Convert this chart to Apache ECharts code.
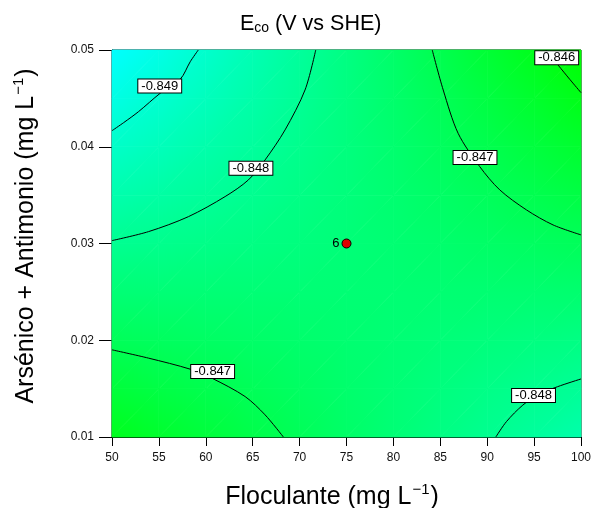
<!DOCTYPE html>
<html>
<head>
<meta charset="utf-8">
<script src="https://cdn.jsdelivr.net/npm/echarts@6/dist/echarts.min.js"></script>
<style>
  html, body { margin: 0; padding: 0; background: #fff; }
  #chart { width: 592px; height: 508px; }
</style>
</head>
<body>
<div id="chart"></div>
<script>
// Response surface of Eco (V vs SHE) over floculante and As + Sb dose
const floculante = [50, 55, 60, 65, 70, 75, 80, 85, 90, 95, 100];
const arsenico = [0.010, 0.015, 0.020, 0.025, 0.030, 0.035, 0.040, 0.045, 0.050];

// eco[row][col]: row follows arsenico, col follows floculante
const eco = [
  [-0.84616, -0.84640, -0.84663, -0.84686, -0.84708, -0.84731, -0.84753, -0.84775, -0.84796, -0.84817, -0.84838],
  [-0.84663, -0.84679, -0.84694, -0.84709, -0.84724, -0.84739, -0.84753, -0.84767, -0.84781, -0.84794, -0.84807],
  [-0.84709, -0.84717, -0.84725, -0.84732, -0.84739, -0.84746, -0.84752, -0.84758, -0.84764, -0.84770, -0.84776],
  [-0.84754, -0.84755, -0.84754, -0.84754, -0.84753, -0.84752, -0.84751, -0.84749, -0.84748, -0.84746, -0.84743],
  [-0.84799, -0.84791, -0.84783, -0.84775, -0.84767, -0.84758, -0.84749, -0.84740, -0.84730, -0.84720, -0.84710],
  [-0.84843, -0.84827, -0.84812, -0.84796, -0.84779, -0.84763, -0.84746, -0.84729, -0.84712, -0.84694, -0.84676],
  [-0.84886, -0.84863, -0.84839, -0.84816, -0.84791, -0.84767, -0.84743, -0.84718, -0.84693, -0.84667, -0.84642],
  [-0.84929, -0.84898, -0.84866, -0.84835, -0.84803, -0.84771, -0.84738, -0.84706, -0.84673, -0.84640, -0.84606],
  [-0.84970, -0.84932, -0.84892, -0.84853, -0.84814, -0.84774, -0.84734, -0.84693, -0.84652, -0.84612, -0.84570]
];

// Contour lines [floculante, arsenico]
const iso849 = [[59.2, 0.0500], [58.34, 0.04879], [57.27, 0.04697], [55.14, 0.04553], [52.83, 0.04363], [51.24, 0.04249], [50, 0.04166]];
const iso848top = [[71.72, 0.0500], [70.58, 0.04587], [68.45, 0.04174], [66.32, 0.03864], [64.54, 0.03657], [62.06, 0.03485], [58.16, 0.03278], [53.90, 0.03123], [50, 0.03030]];
const iso847top = [[84.14, 0.0500], [85.31, 0.04587], [86.90, 0.04139], [89.21, 0.03794], [91.34, 0.03554], [94.19, 0.03347], [97.02, 0.03192], [100, 0.03089]];
const iso846 = [[96.24, 0.0500], [97.55, 0.04845], [98.80, 0.04697], [100, 0.04559]];
const iso847bottom = [[50, 0.01901], [53.90, 0.01815], [58.34, 0.01701], [60.65, 0.01608], [64.19, 0.01418], [66.32, 0.01229], [68.27, 0.0100]];
const iso848bottom = [[90.92, 0.0100], [92.06, 0.0116], [93.8, 0.0133], [95.5, 0.0144], [97.5, 0.0152], [100, 0.0160]];

// Contour level tags [floculante, arsenico, level]
const levelTags = [
  [55.09, 0.04628, '-0.849'],
  [64.81, 0.03778, '-0.848'],
  [88.70, 0.03889, '-0.847'],
  [97.41, 0.04919, '-0.846'],
  [60.73, 0.01677, '-0.847'],
  [94.94, 0.01428, '-0.848']
];

// Design point (center point, replicated runs)
const designPoints = [[75, 0.030, '6']];

const xTicks = { min: 50, max: 100, step: 5 };
const yTicks = { min: 0.01, max: 0.05, step: 0.01 };

const FONT = '"Liberation Sans", Arial, Helvetica, sans-serif';

const flat = eco.flat();
const vLow = Math.min(...flat);
const vHigh = Math.max(...flat);

// cyan at the lowest potential, green at the highest
function colorOf(v) {
  let t = (v - vLow) / (vHigh - vLow);
  t = Math.max(0, Math.min(1, t));
  const b = Math.round(255 * (1 - t));
  return 'rgb(0,255,' + b + ')';
}

// A triangle of the surface shaded with a linear gradient (exact for a linear field)
function shadedTriangle(P) {
  const A = P[0], B = P[1], C = P[2];
  const x1 = B.x - A.x, y1 = B.y - A.y, x2 = C.x - A.x, y2 = C.y - A.y;
  const d1 = B.v - A.v, d2 = C.v - A.v;
  const det = x1 * y2 - x2 * y1;
  let fill;
  if (Math.abs(det) < 1e-9) {
    fill = colorOf(A.v);
  } else {
    const gx = (d1 * y2 - d2 * y1) / det;
    const gy = (x1 * d2 - x2 * d1) / det;
    const g2 = gx * gx + gy * gy;
    const vs = P.map(p => p.v);
    const vmin = Math.min(...vs), vmax = Math.max(...vs);
    if (g2 < 1e-30 || vmax - vmin < 1e-12) {
      fill = colorOf(A.v);
    } else {
      const s0 = (vmin - A.v) / g2, s1 = (vmax - A.v) / g2;
      fill = {
        type: 'linear', global: true,
        x: A.x + s0 * gx, y: A.y + s0 * gy,
        x2: A.x + s1 * gx, y2: A.y + s1 * gy,
        colorStops: [{ offset: 0, color: colorOf(vmin) }, { offset: 1, color: colorOf(vmax) }]
      };
    }
  }
  return {
    type: 'polygon',
    shape: { points: P.map(p => [p.x, p.y]) },
    style: { fill: fill, stroke: fill, lineWidth: 0.8 },
    silent: true
  };
}

const cells = [];
for (let j = 0; j < arsenico.length - 1; j++) {
  for (let i = 0; i < floculante.length - 1; i++) {
    cells.push([floculante[i], arsenico[j], i, j]);
  }
}

function renderCell(params, api) {
  const i = api.value(2), j = api.value(3);
  const corners = [[i, j], [i + 1, j], [i + 1, j + 1], [i, j + 1]].map(function (c) {
    const p = api.coord([floculante[c[0]], arsenico[c[1]]]);
    return { x: p[0], y: p[1], v: eco[c[1]][c[0]] };
  });
  return {
    type: 'group',
    children: [
      shadedTriangle([corners[0], corners[1], corners[2]]),
      shadedTriangle([corners[0], corners[2], corners[3]])
    ]
  };
}

function isoLine(data) {
  return {
    type: 'line', data: data, smooth: 0.3, symbol: 'none', z: 3,
    lineStyle: { color: '#000', width: 1 }, silent: true, clip: true
  };
}

const nameRich = {
  t: { fontFamily: FONT, fontSize: 25, fontWeight: 'normal', color: '#000', lineHeight: 28, verticalAlign: 'bottom' },
  sup: { fontFamily: FONT, fontSize: 15, fontWeight: 'normal', color: '#000', lineHeight: 16, verticalAlign: 'top', padding: [0, 1, 0, 1] }
};

const chart = echarts.init(document.getElementById('chart'), null, { renderer: 'canvas' });

chart.setOption({
  animation: false,
  backgroundColor: '#fff',
  title: {
    text: '{e|E}{s|co}{e| (V vs SHE)}',
    left: 240, top: 9, padding: 0,
    textStyle: {
      fontWeight: 'normal',
      rich: {
        e: { fontFamily: FONT, fontSize: 21.5, fontWeight: 'normal', color: '#000', lineHeight: 26, verticalAlign: 'bottom' },
        s: { fontFamily: FONT, fontSize: 14, fontWeight: 'normal', color: '#000', lineHeight: 21, verticalAlign: 'bottom' }
      }
    }
  },
  grid: {
    left: 112, right: 11, top: 50, bottom: 71,
    outerBoundsMode: 'none', containLabel: false,
    show: true, borderColor: '#000', borderWidth: 1, backgroundColor: 'transparent'
  },
  xAxis: {
    type: 'value', min: xTicks.min, max: xTicks.max, interval: xTicks.step,
    name: '{t|Floculante (mg L}{sup|\u22121}{t|)}',
    nameLocation: 'middle', nameGap: 45,
    nameTextStyle: { padding: [0, 29, 0, 0], rich: nameRich },
    axisLine: { show: true, onZero: false, lineStyle: { color: '#000', width: 1 } },
    axisTick: { show: true, inside: false, length: 9, lineStyle: { color: '#000' } },
    axisLabel: { fontFamily: FONT, fontSize: 12, color: '#111', margin: 15 },
    splitLine: { show: false }
  },
  yAxis: {
    type: 'value', min: yTicks.min, max: yTicks.max, interval: yTicks.step,
    name: '{t|Ars\u00e9nico + Antimonio (mg L}{sup|\u22121}{t|)}',
    nameLocation: 'middle', nameGap: 73,
    nameTextStyle: { padding: [0, 0, 0, 15], rich: nameRich },
    axisLine: { show: true, onZero: false, lineStyle: { color: '#000', width: 1 } },
    axisTick: { show: true, inside: false, length: 13, lineStyle: { color: '#000' } },
    axisLabel: {
      fontFamily: FONT, fontSize: 12, color: '#111', margin: 18,
      formatter: function (v) { return v.toFixed(2); }
    },
    splitLine: { show: false }
  },
  series: [
    {
      type: 'custom', data: cells, renderItem: renderCell, z: 1, silent: true,
      encode: { x: 0, y: 1 }
    },
    isoLine(iso849),
    isoLine(iso848top),
    isoLine(iso847top),
    isoLine(iso846),
    isoLine(iso847bottom),
    isoLine(iso848bottom),
    {
      type: 'scatter', data: levelTags, z: 4, silent: true,
      symbolSize: 0.1, itemStyle: { color: 'rgba(0,0,0,0)', opacity: 1 },
      label: {
        show: true, position: 'inside',
        formatter: function (p) { return p.data[2]; },
        fontFamily: FONT, fontSize: 13, color: '#000', lineHeight: 12,
        backgroundColor: '#fff', borderColor: '#000', borderWidth: 1,
        padding: [1, 3, 0, 3]
      }
    },
    {
      type: 'scatter', data: designPoints, z: 5, silent: true,
      symbol: 'circle', symbolSize: 9,
      itemStyle: { color: '#e00000', borderColor: '#000', borderWidth: 1, opacity: 1 },
      label: {
        show: true, position: 'left', distance: 2,
        formatter: function (p) { return p.data[2]; },
        fontFamily: FONT, fontSize: 13, color: '#000'
      }
    }
  ]
});
</script>
</body>
</html>
